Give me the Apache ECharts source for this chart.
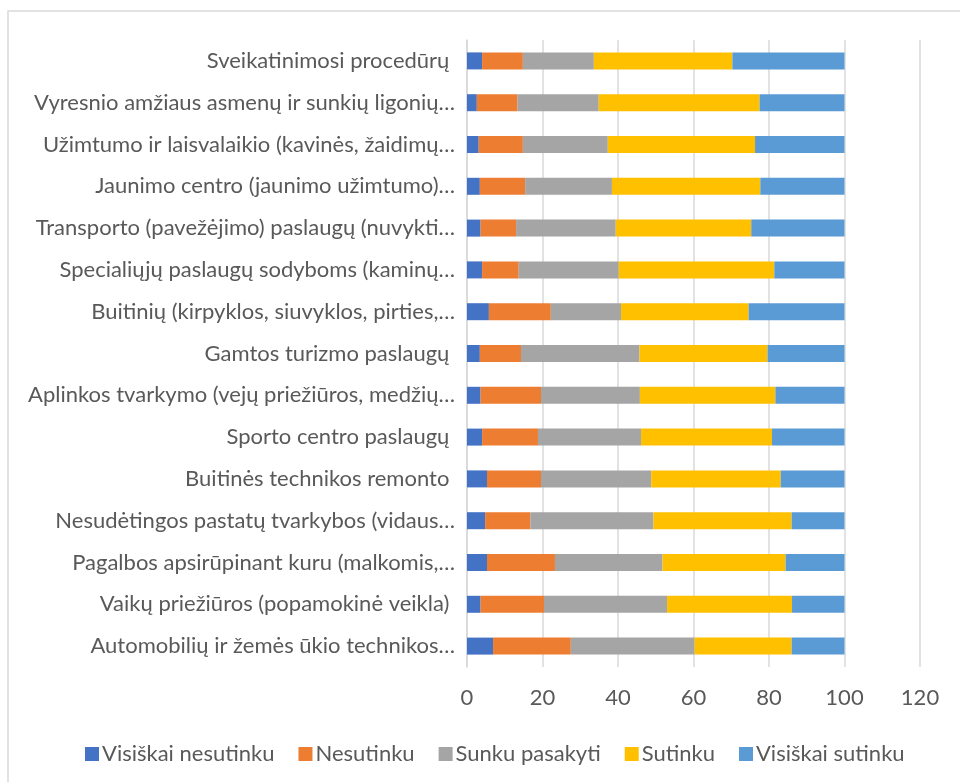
<!DOCTYPE html>
<html>
<head>
<meta charset="utf-8">
<script src="https://cdn.jsdelivr.net/npm/echarts@6/dist/echarts.min.js"></script>
<style>
  html, body { margin: 0; padding: 0; background: #fff; }
  #chart { width: 960px; height: 782px; }
</style>
</head>
<body>
<div id="chart"></div>
<script>
// categories, top to bottom as shown
const categories = [
  "Sveikatinimosi procedūrų ",
  "Vyresnio amžiaus asmenų ir sunkių ligonių…",
  "Užimtumo ir laisvalaikio (kavinės, žaidimų…",
  "Jaunimo centro (jaunimo užimtumo)…",
  "Transporto (pavežėjimo) paslaugų (nuvykti…",
  "Specialiųjų paslaugų sodyboms (kaminų…",
  "Buitinių (kirpyklos, siuvyklos, pirties,…",
  "Gamtos turizmo paslaugų ",
  "Aplinkos tvarkymo (vejų priežiūros, medžių…",
  "Sporto centro paslaugų ",
  "Buitinės technikos remonto ",
  "Nesudėtingos pastatų tvarkybos (vidaus…",
  "Pagalbos apsirūpinant kuru (malkomis,…",
  "Vaikų priežiūros (popamokinė veikla) ",
  "Automobilių ir žemės ūkio technikos…"
];

const seriesNames = ["Visiškai nesutinku", "Nesutinku", "Sunku pasakyti", "Sutinku", "Visiškai sutinku"];

const visiskaiNesutinku = [4.0, 2.6, 3.1, 3.4, 3.6, 4.0, 5.8, 3.4, 3.6, 4.0, 5.3, 4.8, 5.3, 3.6, 6.9];
const nesutinku         = [10.8, 10.8, 11.7, 12.0, 9.4, 9.7, 16.4, 10.9, 16.0, 14.8, 14.3, 12.0, 18.0, 16.8, 20.6];
const sunkuPasakyti     = [18.8, 21.5, 22.5, 23.0, 26.4, 26.5, 18.6, 31.4, 26.2, 27.3, 29.2, 32.6, 28.5, 32.6, 32.8];
const sutinku           = [36.7, 42.6, 39.0, 39.3, 35.9, 41.2, 33.8, 33.9, 35.9, 34.7, 34.3, 36.6, 32.6, 33.1, 25.7];
const visiskaiSutinku   = [29.7, 22.5, 23.7, 22.3, 24.7, 18.6, 25.4, 20.4, 18.3, 19.2, 16.9, 14.0, 15.6, 13.9, 14.0];

const colors = ["#4472C4", "#ED7D31", "#A5A5A5", "#FFC000", "#5B9BD5"];
const allValues = [visiskaiNesutinku, nesutinku, sunkuPasakyti, sutinku, visiskaiSutinku];

const FONT = "Lato";
const TEXT_COLOR = "#595959";

const chart = echarts.init(document.getElementById("chart"));

const option = {
  animation: false,
  color: colors,
  graphic: [
    {
      // chart-area frame; bottom and right edges run off the picture
      type: "rect",
      shape: { x: 8, y: 11, width: 970, height: 800 },
      style: { fill: "none", stroke: "#d9d9d9", lineWidth: 1.5 }
    }
  ],
  grid: {
    left: 467,
    right: 40,
    top: 40,
    height: 627
  },
  legend: {
    top: 738,
    left: 80,
    itemWidth: 14,
    itemHeight: 14,
    itemGap: 24,
    icon: "rect",
    textStyle: { fontFamily: FONT, fontSize: 22, color: TEXT_COLOR, padding: [0, 0, 0, -2] },
    data: seriesNames
  },
  xAxis: {
    type: "value",
    min: 0,
    max: 120,
    interval: 20,
    axisLine: { show: false },
    axisTick: { show: false },
    axisLabel: { fontFamily: FONT, fontSize: 22, color: TEXT_COLOR, margin: 20 },
    splitLine: { show: true, lineStyle: { color: "#d9d9d9", width: 1.5 } }
  },
  yAxis: {
    type: "category",
    inverse: true,
    data: categories,
    axisLine: { show: true, lineStyle: { color: "#d9d9d9", width: 1.5 } },
    axisTick: { show: false },
    axisLabel: { fontFamily: FONT, fontSize: 22, color: TEXT_COLOR, margin: 12 }
  },
  series: seriesNames.map((name, i) => ({
    name: name,
    type: "bar",
    stack: "total",
    barWidth: 17,
    data: allValues[i]
  }))
};

chart.setOption(option);
</script>
</body>
</html>
